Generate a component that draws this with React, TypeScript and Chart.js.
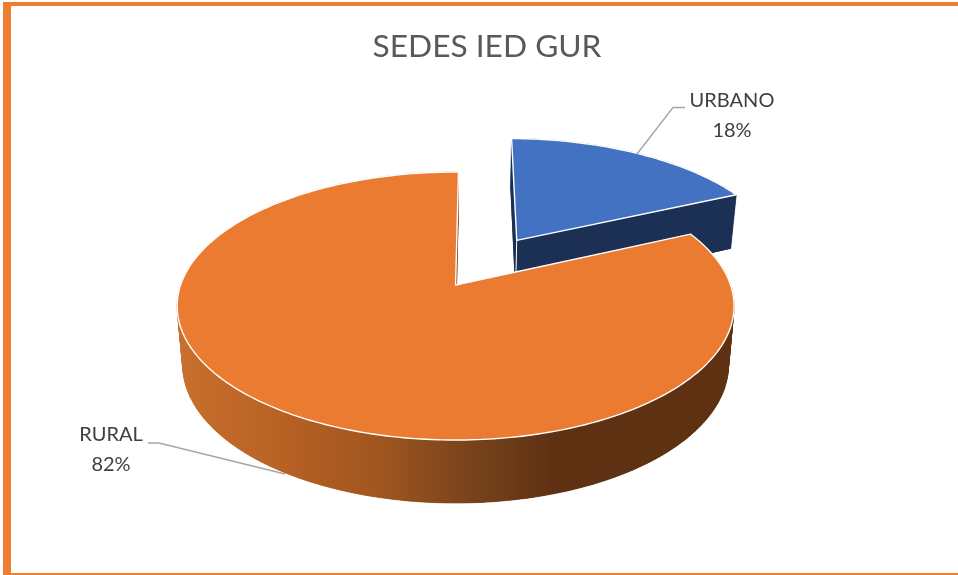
import React, { useEffect, useRef } from "react";
import { Chart, registerables } from "chart.js";

Chart.register(...registerables);

const chartTitle = "SEDES IED GUR";
const categories = ["URBANO", "RURAL"];
const shares = [18, 82];
const explodeFractions = [0.43, 0];
const topColors = ["#4372C2", "#EB7B31"];

const FRAME = "#ED7D31";
const APEX_X = 455.6;
const APEX_Y = 285;
const RX = 275;
const RY = 130.7;
const PERSP = 0.157;
const TAPER = 0.98;

type P = { x: number; y: number };

const project = (u: number, v: number): P => {
  const w = 1 - PERSP * v;
  return { x: APEX_X + (RX * u) / w, y: APEX_Y + (RY * v) / w };
};
const drop = (u: number, v: number): P => {
  const p = project(u, v);
  return { x: APEX_X + (p.x - APEX_X) * TAPER, y: p.y + 58 + 5 * v };
};

const tracePath = (ctx: CanvasRenderingContext2D, pts: P[]) => {
  ctx.beginPath();
  pts.forEach((p, i) => (i ? ctx.lineTo(p.x, p.y) : ctx.moveTo(p.x, p.y)));
  ctx.closePath();
};

const wedgePlugin = {
  id: "wedge3d",
  beforeDraw(chart: any) {
    const { ctx, width, height } = chart;
    ctx.save();
    ctx.fillStyle = "#ffffff";
    ctx.fillRect(0, 0, width, height);
    ctx.fillStyle = FRAME;
    ctx.fillRect(3, 2, 8, height - 2);
    ctx.fillRect(3, 2, width - 3, 4);
    ctx.fillRect(3, height - 2, width - 3, 2);
    ctx.restore();
  },
  beforeDatasetDraw(chart: any, args: any) {
    const { ctx } = chart;
    const arcs = args.meta.data;
    arcs.forEach((arc: any, i: number) => {
      const { startAngle, endAngle } = arc.getProps(["startAngle", "endAngle"], true);
      const mid = (startAngle + endAngle) / 2;
      const ou = Math.cos(mid) * explodeFractions[i];
      const ov = Math.sin(mid) * explodeFractions[i];
      const rim: [number, number][] = [];
      const steps = Math.ceil(((endAngle - startAngle) * 180) / Math.PI);
      for (let s = 0; s <= steps; s++) {
        const a = startAngle + ((endAngle - startAngle) * s) / steps;
        rim.push([ou + Math.cos(a), ov + Math.sin(a)]);
      }
      const topRim = rim.map(([u, v]) => project(u, v));
      const lowRim = rim.map(([u, v]) => drop(u, v));
      const topApex = project(ou, ov);
      const lowApex = drop(ou, ov);

      let side: any;
      if (i === 0) {
        side = "#1B3054";
      } else {
        const g = ctx.createLinearGradient(178, 0, 733, 0);
        g.addColorStop(0, "#C8702D");
        g.addColorStop(0.2, "#B66024");
        g.addColorStop(0.36, "#A0561F");
        g.addColorStop(0.55, "#73401A");
        g.addColorStop(0.68, "#5F3113");
        g.addColorStop(1, "#5F3113");
        side = g;
      }
      ctx.save();
      ctx.fillStyle = side;
      ctx.strokeStyle = side;
      ctx.lineWidth = 0.6;
      tracePath(ctx, [lowApex, ...lowRim]);
      ctx.fill();
      for (let s = 0; s < topRim.length - 1; s++) {
        tracePath(ctx, [topRim[s], topRim[s + 1], lowRim[s + 1], lowRim[s]]);
        ctx.fill();
        ctx.stroke();
      }
      const n = topRim.length - 1;
      tracePath(ctx, [topApex, topRim[0], lowRim[0], lowApex]);
      ctx.fill();
      tracePath(ctx, [topApex, topRim[n], lowRim[n], lowApex]);
      ctx.fill();

      tracePath(ctx, [topApex, ...topRim]);
      ctx.fillStyle = topColors[i];
      ctx.fill();
      ctx.strokeStyle = "#ffffff";
      ctx.lineWidth = 1.4;
      ctx.lineJoin = "round";
      ctx.stroke();
      if (i === 0) {
        ctx.lineWidth = 1;
        ctx.beginPath();
        ctx.moveTo(topApex.x, topApex.y);
        ctx.lineTo(lowApex.x, lowApex.y);
        ctx.stroke();
      }
      ctx.restore();
    });
    return false;
  },
  afterDatasetsDraw(chart: any) {
    const { ctx } = chart;
    const leaders: P[][] = [
      [{ x: 637, y: 154 }, { x: 673, y: 107.5 }, { x: 685, y: 107.5 }],
      [{ x: 148, y: 443 }, { x: 159, y: 443 }, { x: 285, y: 474 }],
    ];
    const textPos: P[] = [{ x: 732, y: 101 }, { x: 111, y: 435 }];
    ctx.save();
    categories.forEach((name, i) => {
      ctx.beginPath();
      leaders[i].forEach((p, k) => (k ? ctx.lineTo(p.x, p.y) : ctx.moveTo(p.x, p.y)));
      ctx.strokeStyle = "#A6A6A6";
      ctx.lineWidth = 1.4;
      ctx.stroke();
      ctx.fillStyle = "#404040";
      ctx.font = "20px Lato";
      ctx.textAlign = "center";
      ctx.textBaseline = "middle";
      ctx.fillText(name, textPos[i].x, textPos[i].y);
      ctx.fillText(`${shares[i]}%`, textPos[i].x, textPos[i].y + 29.5);
    });
    ctx.restore();
  },
};

export default function App() {
  const ref = useRef<HTMLCanvasElement>(null);
  useEffect(() => {
    const chart = new Chart(ref.current as HTMLCanvasElement, {
      type: "pie",
      data: {
        labels: categories,
        datasets: [{ data: shares, backgroundColor: topColors }],
      },
      options: {
        responsive: false,
        animation: false,
        events: [],
        rotation: 0.7,
        layout: { padding: { left: 16, top: 28 } },
        plugins: {
          legend: { display: false },
          tooltip: { enabled: false },
          title: {
            display: true,
            text: chartTitle,
            color: "#595959",
            font: { family: "Lato", size: 31.7, weight: "normal" },
            padding: 0,
          },
        },
      },
      plugins: [wedgePlugin],
    } as any);
    return () => chart.destroy();
  }, []);
  return (
    <div style={{ position: "fixed", left: 0, top: 0, width: 958, height: 575 }}>
      <canvas ref={ref} width={958} height={575} style={{ display: "block" }} />
    </div>
  );
}
